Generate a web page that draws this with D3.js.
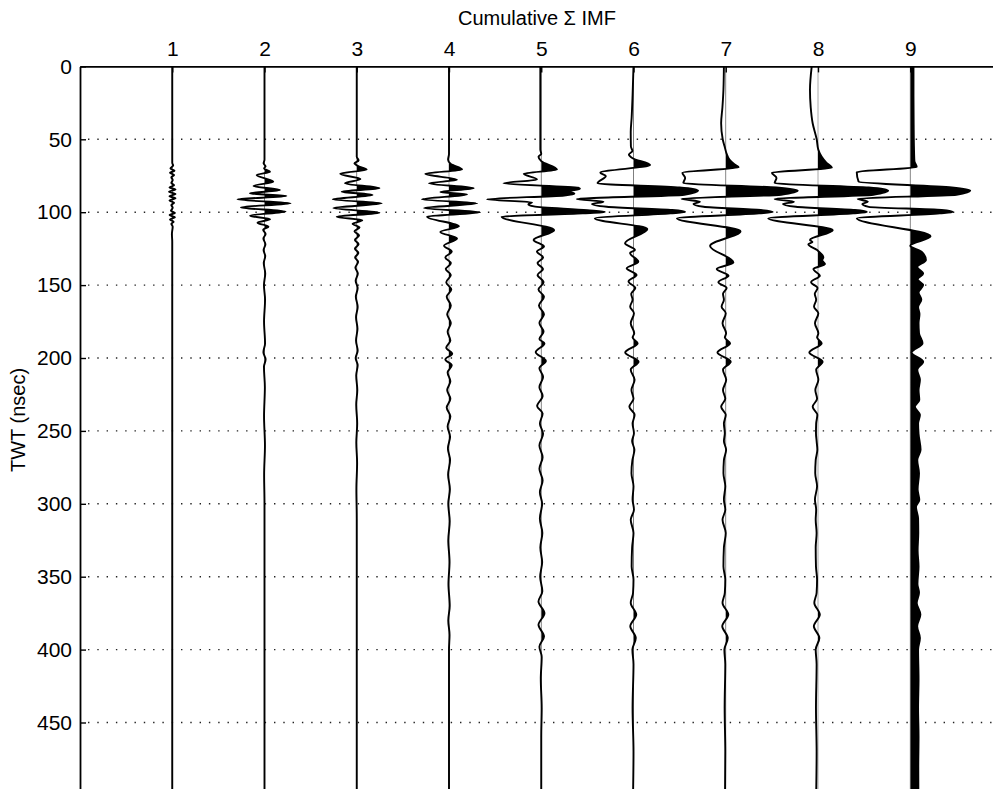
<!DOCTYPE html>
<html>
<head>
<meta charset="utf-8">
<script src="https://cdn.jsdelivr.net/npm/d3@7"></script>
<style>
body { margin: 0; background: #fff; }
text { font-family: "Liberation Sans", Arial, Helvetica, sans-serif; }
</style>
</head>
<body>
<div id="chart"></div>
<script>
// trace numbers (cumulative sum of IMFs) and time ticks
const traceLabels = [1, 2, 3, 4, 5, 6, 7, 8, 9];
const timeTicks = [0, 50, 100, 150, 200, 250, 300, 350, 400, 450];
const gridTicks = [50, 100, 150, 200, 250, 300, 350, 400, 450];

// each trace: [TWT (nsec), amplitude as a fraction of trace spacing]
const trace1 = [[0,0],[66,0],[68,.01],[70,-.02],[71.5,.025],[73,-.025],[74.5,.02],[76,-.01],[78,.005],[80,-.01],[81.5,.02],[83,-.03],[84.5,.035],[86,-.035],[87.5,.035],[89,-.03],[90.5,.035],[92,-.03],[93.5,.02],[95,-.01],[97,.005],[99,-.015],[100.5,.03],[102,-.03],[103.5,.03],[105,-.025],[106.5,.015],[108,-.01],[110,.005],[115,-.004],[120,0],[500,0]];

const trace2 = [[0,0],[64,0],[66.5,-.01],[68.5,.012],[70,-.005],[72.2,.06],[74.5,-.085],[79.1,.095],[82,-.12],[84.8,.168],[87.1,-.157],[88.9,.238],[91.2,-.293],[93.9,.282],[96.7,-.255],[99.6,.228],[102.4,-.157],[104.9,.06],[107.2,-.076],[109.9,.043],[112,-.015],[115,.012],[118,-.012],[122,.01],[126,-.01],[130,.008],[135,-.008],[142,.008],[150,-.006],[160,.006],[175,-.005],[190,.006],[196,-.012],[201,.012],[206,-.006],[220,.004],[240,-.005],[260,.005],[280,-.004],[300,0],[500,0]];

const trace3 = [[0,0],[62,0],[64.5,.02],[66.5,-.025],[68.5,.02],[70.7,.108],[73.7,-.18],[77.3,.04],[80.2,-.127],[83.6,.246],[85.9,-.163],[88.2,.17],[91.2,-.26],[93.9,.27],[97.2,-.253],[100.3,.246],[103.1,-.217],[105.6,.06],[108,-.045],[110.5,.03],[113,-.025],[116,.025],[119,-.02],[122,.02],[125,-.02],[128,.018],[131,-.018],[134,.015],[138,-.015],[142,.012],[147,-.012],[152,.01],[158,-.01],[165,.01],[172,-.008],[180,.008],[188,-.008],[195,.01],[200,-.012],[205,.01],[212,-.006],[222,.006],[232,-.006],[245,.005],[258,-.005],[272,.004],[290,-.004],[310,0],[500,0]];

const trace4 = [[0,0],[60,0],[64,-.01],[67,.02],[70.7,.141],[73.7,-.257],[77.8,.087],[80.2,-.217],[83.6,.268],[86.1,-.094],[87.8,.195],[91.2,-.293],[93.9,.304],[97.2,-.27],[100.1,.336],[103.1,-.238],[109.7,.108],[113.5,-.094],[118,.087],[123,-.054],[127,.03],[131,-.04],[135,.02],[139,-.035],[143,.02],[148,-.03],[153,.025],[158,-.025],[164,.02],[170,-.02],[176,.02],[182,-.015],[188,.015],[193,-.03],[197,.035],[201,-.04],[205,.03],[210,-.015],[216,.015],[222,-.02],[228,.015],[234,-.025],[240,.015],[247,-.015],[254,.012],[262,-.012],[270,.012],[280,-.01],[290,.01],[300,-.008],[312,.008],[325,-.008],[340,.006],[355,-.006],[370,.008],[380,-.008],[390,.006],[400,0],[500,0]];

const trace5 = [[0,-.01],[40,-.01],[57,-.01],[60,0],[62,-.03],[65,0],[70.7,.17],[73.7,-.19],[77.5,-.047],[80.2,-.41],[83.2,.40],[84,.42],[85.6,.30],[87.3,.36],[88.5,.25],[91.2,-.59],[93.2,-.1],[94.5,-.14],[96,-.08],[98.6,.5],[99.8,.69],[100.8,.45],[103.1,-.43],[112.3,.14],[119,-.083],[123.5,.03],[127,-.047],[131,.02],[135,-.04],[139,.02],[143,-.04],[148,.025],[153,-.03],[158,.03],[164,-.025],[170,.03],[176,-.02],[182,.025],[187,-.02],[190,.035],[196,-.06],[202,.05],[207,-.02],[213,.02],[220,-.02],[226,.015],[233,-.045],[238,.015],[245,-.015],[252,.02],[260,-.02],[268,.015],[276,-.02],[284,.015],[292,-.015],[300,.01],[310,-.015],[320,.012],[330,-.01],[340,.01],[350,-.012],[360,.012],[367,-.03],[375,.035],[383,-.03],[391,.03],[398,-.02],[405,.005],[420,-.005],[440,.005],[460,0],[500,0]];

const trace6 = [[0,0],[20,-.01],[35,-.02],[45,-.03],[55,-.028],[58,-.012],[60.5,-.05],[63,-.01],[67.6,.18],[72.9,-.36],[75.2,-.3],[80.2,-.39],[83.1,.5],[85.2,.70],[88,.55],[91,-.615],[92.8,-.325],[94.4,-.45],[96.3,-.29],[98.5,.42],[99.8,.56],[100.8,.4],[104.2,-.42],[111.5,.15],[121.3,-.092],[125.9,.016],[128,-.038],[134,.052],[138.5,-.074],[143,.033],[147.5,-.054],[152,.02],[156,-.025],[160,-.01],[164.8,-.036],[169.3,.005],[176.2,-.03],[183,.008],[186,-.01],[189.9,.045],[196.3,-.09],[202.5,.055],[208,-.03],[215,.012],[222,-.022],[228,0],[233.4,-.045],[239,.012],[245,-.01],[251.6,.005],[257,-.015],[263,.01],[270,-.012],[279,-.022],[288,0],[297,-.01],[304,.005],[311,-.03],[320,0],[330,-.015],[343,-.02],[352,0],[361,-.005],[368,-.03],[376,.03],[384,-.035],[392,.025],[400,-.012],[410,0],[440,-.01],[470,0],[500,-.005]];

const trace7 = [[0,-.02],[16,-.025],[28,-.036],[39,-.05],[50,-.033],[55,-.012],[60,.01],[64,.04],[67,.09],[69.2,.14],[72.9,-.47],[76.5,-.44],[80,-.46],[83.1,.55],[85.2,.78],[88,.6],[90.8,-.48],[92.8,-.28],[94.4,-.35],[96.3,-.24],[98.5,.38],[99.8,.51],[100.8,.36],[104.2,-.53],[113,.16],[123.1,-.17],[134.5,.083],[139,-.098],[143.6,.03],[148,-.08],[152,.01],[156,-.03],[160,-.02],[164.8,-.045],[169.3,0],[176.2,-.035],[183,.004],[186,-.01],[189.9,.047],[196.3,-.09],[202.5,.054],[208,-.03],[215,.005],[222,-.03],[228,-.005],[233.4,-.05],[239,0],[245,-.02],[251.6,-.01],[257,-.02],[263,.004],[270,-.02],[279,-.025],[288,-.005],[297,-.02],[304,-.005],[311,-.035],[320,0],[330,-.02],[343,-.025],[352,-.005],[361,-.01],[368,-.035],[376,.028],[384,-.038],[392,.022],[400,-.015],[410,-.005],[440,-.012],[470,-.005],[500,-.008]];

const trace8 = [[0,-.068],[16,-.087],[28,-.079],[39,-.058],[50,-.014],[57,.003],[62,.04],[66,.09],[69.5,.15],[72.9,-.5],[76.5,-.45],[80,-.47],[83.1,.55],[85.2,.76],[88,.6],[91,-.47],[92.8,-.26],[94.4,-.38],[96.3,-.24],[98.5,.4],[99.8,.53],[100.8,.38],[104.2,-.54],[112.3,.16],[119,-.087],[120.5,-.06],[122,-.105],[126,-.01],[130.9,.058],[133,.045],[135.5,.076],[139,-.05],[143.6,.02],[148,-.075],[152,-.005],[156,-.035],[160,-.02],[164.8,-.043],[169.3,.004],[176.2,-.033],[183,.004],[186,-.01],[189.9,.04],[196.3,-.094],[202.5,.05],[208,-.02],[215,.004],[222,-.029],[228,-.01],[233.4,-.058],[239,-.007],[245,-.02],[251.6,-.022],[257,-.015],[263,-.007],[270,-.025],[279,-.03],[288,-.01],[297,-.033],[304,-.02],[311,-.025],[320,-.015],[330,-.025],[343,-.022],[352,-.01],[361,-.015],[368,-.04],[376,.02],[384,-.045],[392,.015],[400,-.025],[410,-.015],[440,-.022],[470,-.015],[500,-.02]];

const trace9 = [[0,.035],[20,.035],[40,.037],[55,.04],[65,.045],[69,.07],[72.5,-.58],[79,-.56],[83.1,.45],[85.2,.65],[88,.5],[90.8,-.57],[92.8,-.46],[94.4,-.52],[96.3,-.45],[98.5,.34],[99.8,.46],[100.8,.32],[104.2,-.58],[116.5,.22],[123,0],[127,.12],[132.7,.17],[137.6,.076],[142,.14],[146,.08],[150,.14],[155,.09],[160,.12],[165,.085],[170,.1],[176,.09],[183,.095],[189.9,.133],[196.3,.014],[202.5,.14],[208,.076],[215,.105],[222,.09],[228.8,.098],[233.4,.05],[239,.105],[245,.085],[252,.09],[263,.112],[270,.076],[279,.095],[290,.08],[297.4,.098],[302,.062],[310,.085],[320,.087],[332,.08],[343,.09],[355,.078],[361,.095],[368,.07],[376,.11],[384,.075],[392,.105],[400,.085],[420,.09],[440,.085],[460,.09],[480,.087],[500,.088]];

const traces = [trace1, trace2, trace3, trace4, trace5, trace6, trace7, trace8, trace9];

const width = 993, height = 789;

const x = d3.scaleLinear().domain([0, 10]).range([80, 1002.5]);
const y = d3.scaleLinear().domain([0, 500]).range([66.4, 795.4]);

const svg = d3.select("#chart")
    .append("svg")
    .attr("width", width)
    .attr("height", height);

const defs = svg.append("defs");

// dotted grid
svg.append("g")
    .selectAll("line")
    .data(gridTicks)
    .enter()
    .append("line")
    .attr("x1", x(0) + 8)
    .attr("x2", width)
    .attr("y1", d => y(d))
    .attr("y2", d => y(d))
    .attr("stroke", "#222")
    .attr("stroke-width", 1.4)
    .attr("stroke-dasharray", "1.4,7.9");

// gray zero lines of traces
svg.append("g")
    .selectAll("line")
    .data(traceLabels)
    .enter()
    .append("line")
    .attr("x1", d => x(d))
    .attr("x2", d => x(d))
    .attr("y1", y(0))
    .attr("y2", height)
    .attr("stroke", "#aaa")
    .attr("stroke-width", 1);

// wiggle traces with positive fill
traces.forEach((tr, i) => {
    const k = traceLabels[i];
    const base = x(k);
    defs.append("clipPath")
        .attr("id", "pos" + k)
        .append("rect")
        .attr("x", base)
        .attr("y", 0)
        .attr("width", width)
        .attr("height", height);

    const area = d3.area()
        .curve(d3.curveMonotoneY)
        .y(d => y(d[0]))
        .x0(base)
        .x1(d => x(k + d[1]));

    const line = d3.line()
        .curve(d3.curveMonotoneY)
        .x(d => x(k + d[1]))
        .y(d => y(d[0]));

    svg.append("path")
        .attr("d", area(tr))
        .attr("clip-path", "url(#pos" + k + ")")
        .attr("fill", "#000");

    svg.append("path")
        .attr("d", line(tr))
        .attr("fill", "none")
        .attr("stroke", "#000")
        .attr("stroke-width", 1.9)
        .attr("stroke-linejoin", "round");
});

// axes
const yAxis = d3.axisLeft(y)
    .tickValues(timeTicks)
    .tickSizeInner(-6)
    .tickSizeOuter(0)
    .tickPadding(8);

const yg = svg.append("g")
    .attr("transform", `translate(${x(0)},0)`)
    .call(yAxis);
yg.select(".domain").attr("stroke-width", 1.8);
yg.selectAll(".tick line").attr("stroke-width", 1.4);
yg.selectAll("text").style("font-size", "21px").attr("fill", "#000");

const xAxis = d3.axisTop(x)
    .tickValues(traceLabels)
    .tickSizeInner(-6)
    .tickSizeOuter(0)
    .tickPadding(10);

const xg = svg.append("g")
    .attr("transform", `translate(0,${y(0)})`)
    .call(xAxis);
xg.select(".domain").attr("stroke-width", 1.8);
xg.selectAll(".tick line").attr("stroke-width", 1.4);
xg.selectAll("text").style("font-size", "21px").attr("fill", "#000");

// labels
svg.append("text")
    .attr("x", 537)
    .attr("y", 25)
    .attr("text-anchor", "middle")
    .style("font-size", "20px")
    .text("Cumulative \u03A3 IMF");

svg.append("text")
    .attr("transform", "translate(25,420) rotate(-90)")
    .attr("text-anchor", "middle")
    .style("font-size", "20px")
    .text("TWT (nsec)");
</script>
</body>
</html>
